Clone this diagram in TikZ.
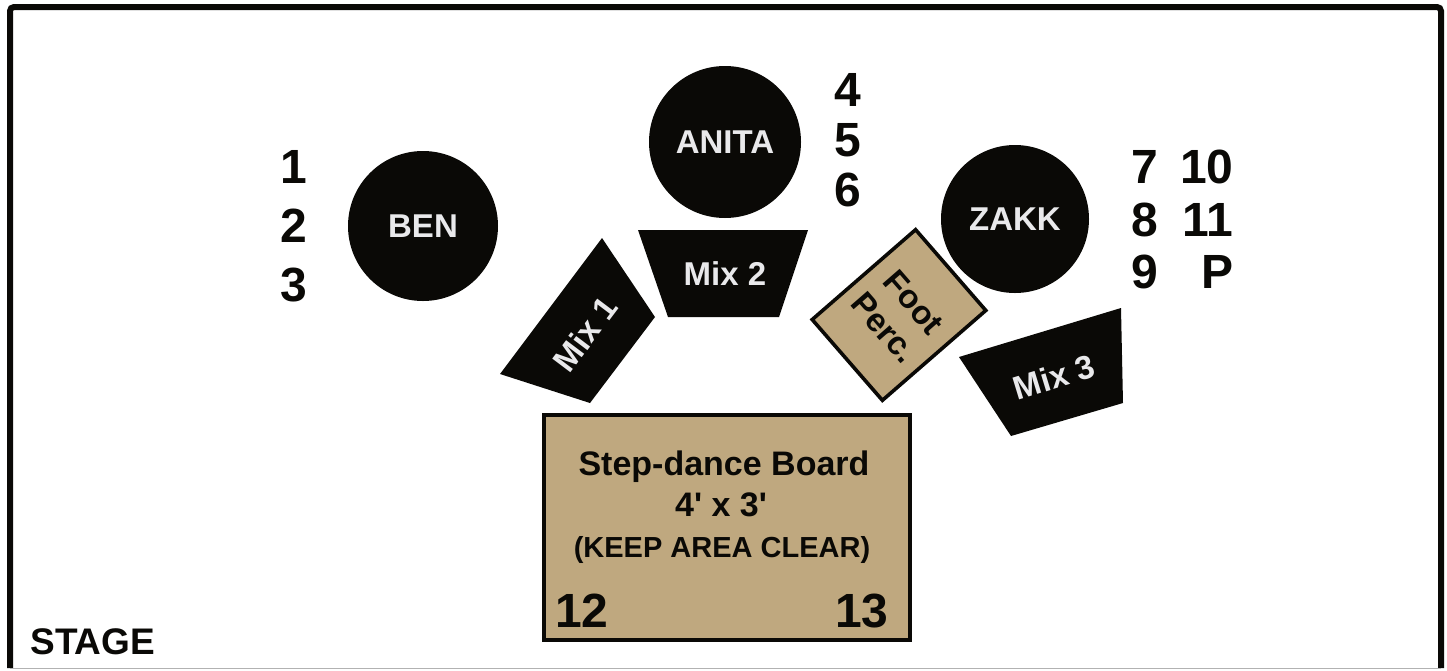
\documentclass[tikz,border=0pt]{standalone}
\usepackage{fontspec}
\setmainfont{Liberation Sans}
\definecolor{ink}{RGB}{10,9,6}
\definecolor{boardtan}{RGB}{191,168,127}
\definecolor{paper}{RGB}{233,233,235}
\tikzset{
  seat/.style   = {circle, fill=ink, text=paper, inner sep=0pt, minimum size=75pt,
                   font=\fontsize{16.5}{18}\selectfont\bfseries},
  num/.style    = {text=ink, inner sep=0pt, font=\fontsize{24}{26}\selectfont\bfseries},
  mixlab/.style = {text=paper, inner sep=0pt, font=\fontsize{16.5}{18}\selectfont\bfseries},
  mixbox/.style = {fill=ink},
  tanbox/.style = {draw=ink, fill=boardtan, inner sep=0pt},
  blab/.style   = {text=ink, inner sep=0pt, anchor=base},
}
\newcommand{\ft}{\textquotesingle}

\begin{document}
\begin{tikzpicture}[x=0.5pt, y=-0.5pt]
\useasboundingbox (0,0) rectangle (1447,670);
% stage outline
\draw[ink, line width=3pt, rounded corners=2pt] (10,668) -- (10,7) -- (1441,7) -- (1441,668);
\draw[black!30, line width=0.6pt] (10,668.6) -- (1441,668.6);
\node[blab, anchor=base west, font=\fontsize{18.5}{20}\selectfont\bfseries] (stage) at (30,654) {STAGE};

% players
\node[seat] (ben) at (423,226) {BEN};
\node[seat, minimum size=76pt] (anita) at (725,142) {ANITA};
\node[seat, minimum size=74pt] (zakk) at (1015,219) {ZAKK};

% channel numbers
\foreach \n/\y in {1/167, 2/226, 3/285} \node[num] (ch\n) at (294,\y) {\n};
\foreach \n/\y in {4/90, 5/140, 6/190} \node[num] (ch\n) at (848,\y) {\n};
\foreach \n/\y in {7/167, 8/220, 9/272} \node[num] (ch\n) at (1145,\y) {\n};
\foreach \n/\y in {10/167, 11/220} \node[num, anchor=east] (ch\n) at (1234,\y) {\n};
\node[num, anchor=east] (chP) at (1234,272) {P};

% monitor mixes
\fill[mixbox] (602,238) -- (655,317) -- (590,403) -- (500,374) -- cycle;
\node[mixlab, rotate=53] (mix1) at (585,334) {Mix 1};
\fill[mixbox] (638,230) -- (808,230) -- (779,317) -- (668,317) -- cycle;
\node[mixlab] (mix2) at (725,274) {Mix 2};
\fill[mixbox] (959,357) -- (1121,308) -- (1123,403) -- (1011,436) -- cycle;
\node[mixlab, rotate=17] (mix3) at (1054,377) {Mix 3};

% foot percussion
\node[tanbox, line width=1.8pt, rotate=-49, minimum width=53.5pt, minimum height=68.5pt,
      align=center, text=ink, font=\fontsize{16.5}{19.5}\selectfont\bfseries] (foot) at (899,315) {Foot\\Perc.};

% step-dance board
\node[tanbox, line width=2pt, minimum width=183pt, minimum height=112.5pt] (board) at (727,527.5) {};
\node[blab, font=\fontsize{17}{20}\selectfont\bfseries] (btitle) at (724,475) {Step-dance Board};
\node[blab, font=\fontsize{17}{20}\selectfont\bfseries] (bsize) at (721,516) {4\ft{} x 3\ft};
\node[blab, font=\fontsize{14.5}{17}\selectfont\bfseries] (bkeep) at (722,557) {(KEEP AREA CLEAR)};
\node[blab, font=\fontsize{24}{26}\selectfont\bfseries] (ch12) at (582,627) {12};
\node[blab, font=\fontsize{24}{26}\selectfont\bfseries] (ch13) at (862,627) {13};
\end{tikzpicture}
\end{document}
